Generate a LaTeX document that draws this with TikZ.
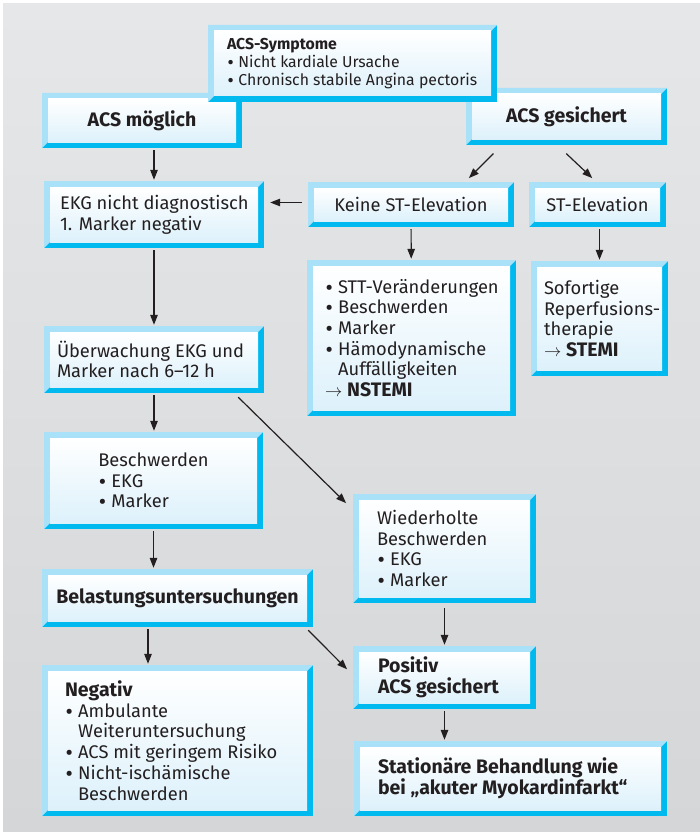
\documentclass[tikz,border=0pt]{standalone}
\usepackage{fontspec}
\setmainfont{Fira Sans}
\newfontfamily\bulletfont{PT Sans}
\usepackage{tikz}
\usetikzlibrary{positioning,arrows.meta,calc}

\definecolor{framelight}{HTML}{A9E1F9}
\definecolor{framedark}{HTML}{00B9EE}
\definecolor{boxfill}{HTML}{DDF1FB}
\definecolor{bgtop}{HTML}{E6E7E8}
\definecolor{bgbot}{HTML}{D5D6D7}
\definecolor{inkgray}{HTML}{231F20}

\newcommand{\mainsz}{\fontsize{18.3}{20.7}\selectfont}
\newcommand{\smallsz}{\fontsize{15.8}{17.8}\selectfont}
\newcommand{\hb}[1]{{\fontsize{19.5}{20.7}\selectfont\bfseries #1}}
\newcommand{\bul}{{\bulletfont •}\ }
\newcommand{\hang}{\phantom{\bul}}

\begin{document}
\begin{tikzpicture}[
  x=1pt, y=-1pt, >=Triangle,
  box/.style={rectangle, fill=framedark, inner sep=0pt, align=left,
              text=inkgray, font=\mainsz,
              path picture={
                \fill[framedark] (path picture bounding box.south west) rectangle (path picture bounding box.north east);
                \fill[framelight] (path picture bounding box.north west) -- (path picture bounding box.north east)
                  -- ([shift={(-6pt,-6pt)}]path picture bounding box.north east)
                  -- ([shift={(6pt,6pt)}]path picture bounding box.south west)
                  -- (path picture bounding box.south west) -- cycle;
                \shade[top color=white, bottom color=boxfill]
                  ([shift={(6pt,-6pt)}]path picture bounding box.north west)
                  rectangle ([shift={(-6pt,6pt)}]path picture bounding box.south east);
              }},
  txt/.style={anchor=west, align=left, inner sep=0pt, text=inkgray, font=\mainsz},
  arr/.style={-{Triangle[length=10pt,width=7.5pt]}, line width=1.2pt, color=inkgray,
              shorten <=2pt, shorten >=1pt},
]
% background
\useasboundingbox (0,0) rectangle (700,832);
\fill[white] (0,0) rectangle (700,832);
\shade[top color=bgtop, bottom color=bgbot] (3,4) rectangle (700,832);

% top row
\node[box, minimum width=200pt, minimum height=55pt] (moegl) at (142,120.5) {\hb{ACS möglich}};
\node[box, minimum width=201pt, minimum height=57pt] (gesich) at (566.5,116.5) {\hb{ACS gesichert}};
\node[box, minimum width=289pt, minimum height=77pt,
      label={[txt, font=\smallsz, label distance=-19pt]west:{\textbf{ACS-Symptome}\\\bul Nicht kardiale Ursache\\\bul Chronisch stabile Angina pectoris}}]
      (sympt) at (352.5,63.5) {};

% left column
\node[box, minimum width=220pt, minimum height=67pt,
      label={[txt, label distance=-16pt]west:{EKG nicht diagnostisch\\1. Marker negativ}}]
      (ekgnd) at (154,214.5) {};
\node[box, minimum width=220pt, minimum height=67pt,
      label={[txt, label distance=-13pt]west:{Überwachung EKG und\\Marker nach 6–12 h}}]
      (ueberw) at (154,359.5) {};
\node[box, minimum width=219pt, minimum height=97pt] (beschw) at (153.5,480.5)
  {Beschwerden\\\bul EKG\\\bul Marker};
\node[box, minimum width=271pt, minimum height=58pt] (belast) at (177.5,598)
  {\hb{Belastungsuntersuchungen}};
\node[box, minimum width=271pt, minimum height=151pt,
      label={[txt, label distance=-23pt]west:{\hb{Negativ}\\\bul Ambulante\\\hang Weiteruntersuchung\\\bul ACS mit geringem Risiko\\\bul Nicht-ischämische\\\hang Beschwerden}}]
      (negativ) at (177.5,740.5) {};

% right side
\node[box, minimum width=206pt, minimum height=45pt] (keinst) at (411,204.5) {Keine ST-Elevation};
\node[box, minimum width=137pt, minimum height=45pt] (stelev) at (597.5,204.5) {ST-Elevation};
\node[box, minimum width=209pt, minimum height=156pt,
      label={[txt, label distance=-18pt]west:{\bul STT-Veränderungen\\\bul Beschwerden\\\bul Marker\\\bul Hämodynamische\\\hang Auffälligkeiten\\$\rightarrow$ \hb{NSTEMI}}}]
      (nstemi) at (411.5,338) {};
\node[box, minimum width=137pt, minimum height=115pt,
      label={[txt, label distance=-13pt]west:{Sofortige\\Reperfusions-\\therapie\\$\rightarrow$ \hb{STEMI}}}]
      (stemi) at (599.5,318.5) {};
\node[box, minimum width=183pt, minimum height=109pt,
      label={[txt, label distance=-24pt]west:{Wiederholte\\Beschwerden\\\bul EKG\\\bul Marker}}]
      (wiederh) at (444.5,548.5) {};
\node[box, minimum width=183pt, minimum height=63pt,
      label={[txt, label distance=-25pt]west:{\hb{Positiv}\\\hb{ACS gesichert}}}]
      (positiv) at (444.5,677.5) {};
\node[box, minimum width=313pt, minimum height=75pt,
      label={[txt, label distance=-24pt]west:{\hb{Stationäre Behandlung wie}\\\hb{bei „akuter Myokardinfarkt“}}}]
      (station) at (510.5,778.5) {};

% arrows
\draw[arr] (moegl.south -| ekgnd.north) -- (ekgnd.north);
\draw[arr] ([shift={(29pt,-7pt)}]gesich.south west) -- ([shift={(-46pt,3pt)}]keinst.north east);
\draw[arr] ([shift={(99pt,-7pt)}]gesich.south west) -- ([shift={(-4.5pt,3pt)}]stelev.north);
\draw[arr, shorten <=6pt, shorten >=6pt] ([yshift=2pt]keinst.west) -- ([yshift=2pt]keinst.west -| ekgnd.east);
\draw[arr] (keinst) -- (nstemi);
\draw[arr] (stelev.south -| stemi.north) -- (stemi.north);
\draw[arr] (ekgnd) -- (ueberw);
\draw[arr] (ueberw) -- (ueberw.south |- beschw.north);
\draw[arr, shorten <=0pt] ([shift={(-26pt,-4pt)}]ueberw.south east) -- ([shift={(-6pt,-10pt)}]wiederh.north west);
\draw[arr] (beschw) -- (beschw.south |- belast.north);
\draw[arr] ([xshift=-29.5pt]belast.south) -- ([xshift=-29.5pt]negativ.north);
\draw[arr, shorten <=0pt] ([shift={(-5pt,-3pt)}]belast.south east) -- ([shift={(-5pt,7.5pt)}]positiv.west);
\draw[arr, shorten <=5pt] (wiederh) -- (positiv);
\draw[arr] (positiv) -- (positiv.south |- station.north);
\end{tikzpicture}
\end{document}
